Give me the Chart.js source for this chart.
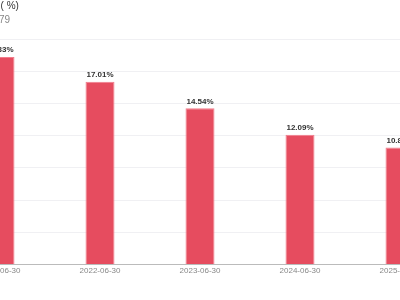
<!DOCTYPE html>
<html>
<head>
<meta charset="utf-8">
<script src="https://cdn.jsdelivr.net/npm/chart.js@4.4.0/dist/chart.umd.min.js"></script>
<style>
    html, body { margin: 0; padding: 0; background: #fff; overflow: hidden; }
    body { width: 400px; height: 300px; position: relative; }
    #wrap { position: absolute; left: -50px; top: 0; width: 500px; height: 300px; }
</style>
</head>
<body>
<div id="wrap"><canvas id="marginChart"></canvas></div>
<script>
// Data
const periods = ['2021-06-30', '2022-06-30', '2023-06-30', '2024-06-30', '2025-06-30'];
const marginValues = [19.33, 17.01, 14.54, 12.09, 10.88];
const titleText = 'ROE Ratio ( %)';
const subtitleText = 'Code 600079';

// Value labels on top of bars
const barLabels = {
    id: 'barLabels',
    afterDatasetsDraw(chart) {
        const ctx = chart.ctx;
        const meta = chart.getDatasetMeta(0);
        ctx.save();
        ctx.font = "bold 8px 'Liberation Sans', Arial, sans-serif";
        ctx.fillStyle = '#333333';
        ctx.textAlign = 'center';
        ctx.textBaseline = 'bottom';
        meta.data.forEach((bar, i) => {
            ctx.fillText(marginValues[i].toFixed(2) + '%', bar.x, bar.y - 3);
        });
        ctx.restore();
    }
};

Chart.defaults.font.family = "'Liberation Sans', Arial, sans-serif";

new Chart(document.getElementById('marginChart').getContext('2d'), {
    type: 'bar',
    data: {
        labels: periods,
        datasets: [{
            label: titleText,
            data: marginValues,
            backgroundColor: '#E64C5F',
            borderColor: '#F27C8B',
            borderWidth: 1,
            categoryPercentage: 1,
            barPercentage: 0.29
        }]
    },
    options: {
        responsive: true,
        maintainAspectRatio: false,
        animation: false,
        layout: { padding: { top: 0, left: 0, right: 0, bottom: 22 } },
        plugins: {
            legend: { display: false },
            tooltip: { enabled: false },
            title: {
                display: true,
                text: titleText,
                align: 'start',
                color: '#333333',
                font: { size: 10, weight: 'normal' },
                padding: { top: 0, bottom: 2 }
            },
            subtitle: {
                display: true,
                text: subtitleText,
                align: 'start',
                color: '#888888',
                font: { size: 10 },
                padding: { top: 0, bottom: 13 }
            }
        },
        scales: {
            x: {
                grid: { display: false, drawTicks: false },
                border: { color: '#BBBBBB', width: 1 },
                ticks: { color: '#888888', font: { size: 8 }, padding: 2, maxRotation: 0 }
            },
            y: {
                min: 0,
                max: 21,
                ticks: { display: false, stepSize: 3 },
                grid: { color: '#F0F0F3', drawTicks: false },
                border: { display: false }
            }
        }
    },
    plugins: [barLabels]
});
</script>
</body>
</html>
